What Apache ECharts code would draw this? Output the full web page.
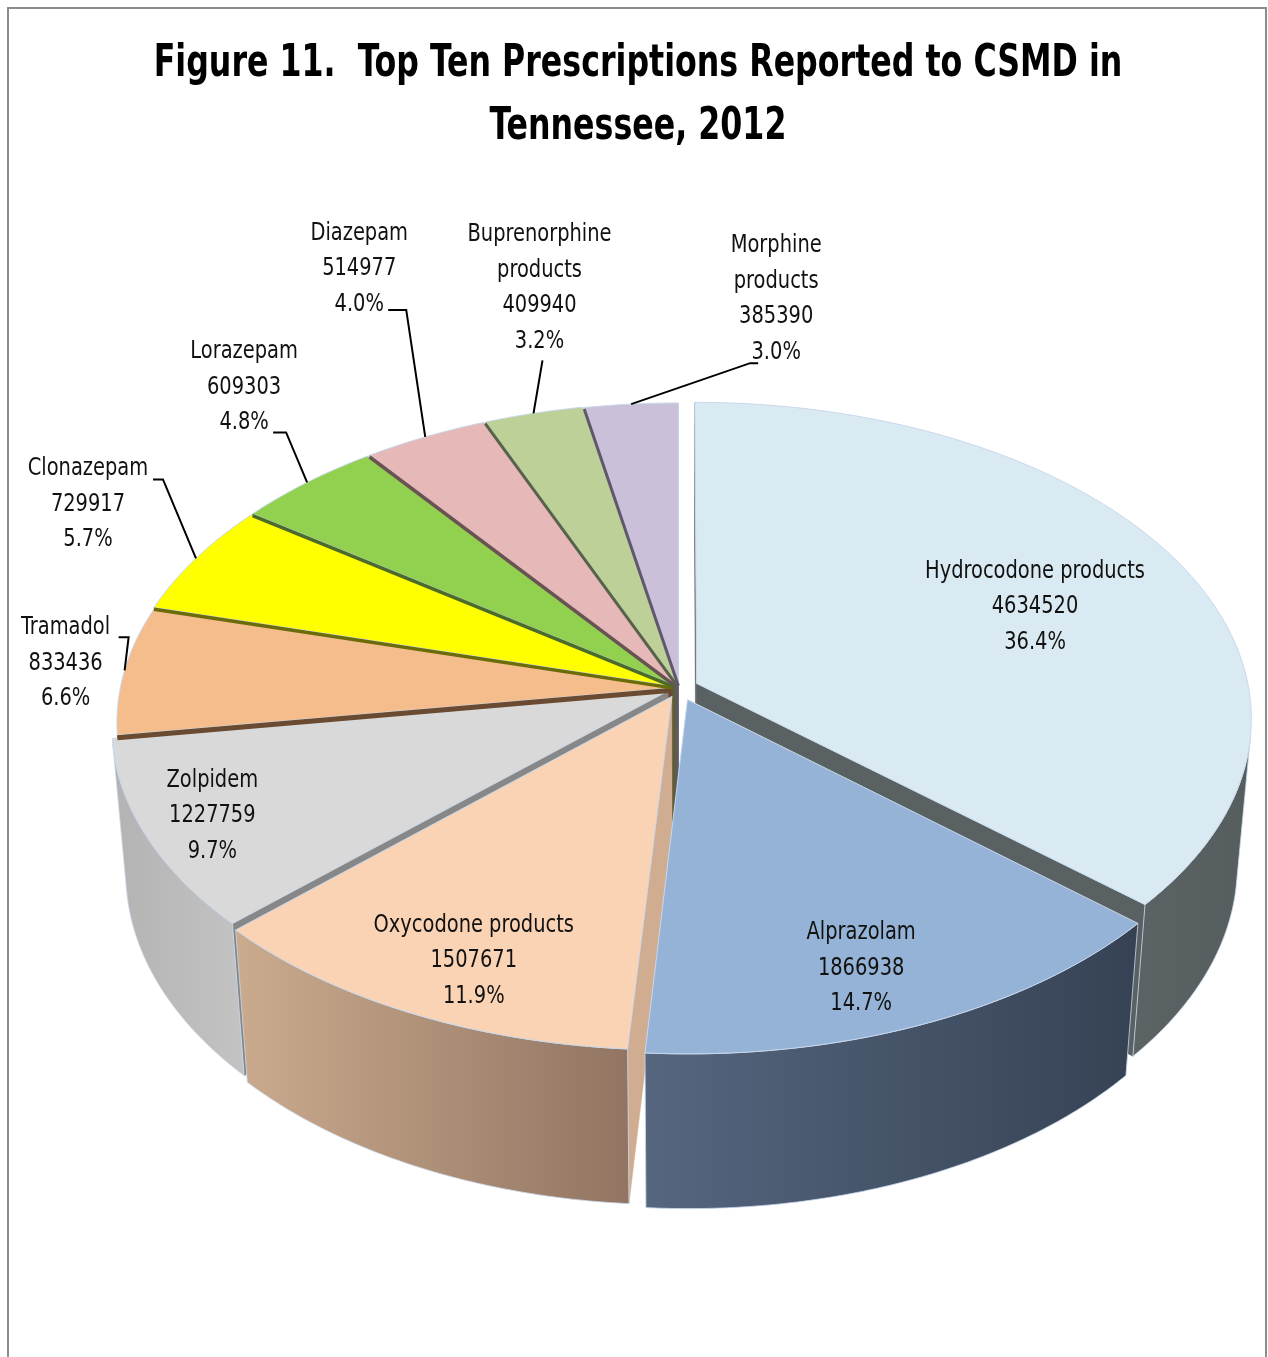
<!DOCTYPE html>
<html>
<head>
<meta charset="utf-8">
<title>Top Ten Prescriptions Reported to CSMD in Tennessee, 2012</title>
<script src="https://cdn.jsdelivr.net/npm/echarts@6/dist/echarts.min.js"></script>
<style>
  html, body { margin: 0; padding: 0; background: #ffffff; }
  #chart { width: 1268px; height: 1357px; }
</style>
</head>
<body>
<div id="chart"></div>
<script>
// ---- data ----
const drugNames = [
  'Hydrocodone products', 'Alprazolam', 'Oxycodone products', 'Zolpidem', 'Tramadol',
  'Clonazepam', 'Lorazepam', 'Diazepam', 'Buprenorphine products', 'Morphine products'
];
const prescriptionCounts = [4634520, 1866938, 1507671, 1227759, 833436, 729917, 609303, 514977, 409940, 385390];
const titleLines = ['Figure 11.  Top Ten Prescriptions Reported to CSMD in', 'Tennessee, 2012'];

// ---- styling ----
const topColors = ['#DAEAF2', '#95B3D7', '#FAD3B4', '#D9D9D9', '#F6BD8C', '#FFFF00', '#92D050', '#E6B8B7', '#BCD098', '#CBC0DA'];
const outerWallColors = [
  ['#5B6364', '#555D5E'], ['#56667F', '#364254'], ['#CBAB8E', '#917562'], ['#B3B3B3', '#C3C3C3'], ['#B9885F', '#9E7250'],
  ['#B5B500', '#9A9A00'], ['#6A9A38', '#5A8530'], ['#A88584', '#8F7170'], ['#8C9A6E', '#7A875F'], ['#958AA3', '#81778E']
];
const cutWallColors = ['#596162', '#42526B', '#D0AD91', '#878787', '#6A4A30', '#6B6B08', '#4B6B28', '#6B5252', '#58624A', '#5E586A'];
// thickness of the cut face showing along a slice's leading edge
const leadEdgeWidth = [0, 0, 0, 0, 5, 3.5, 3.5, 3.5, 3, 3];
const explodeBy = [0.035, 0.04, 0.03, 0.022, 0.012, 0.014, 0.014, 0.014, 0.014, 0.012];

// label text layout (line breaks) and placement
const labelNameLines = [
  'Hydrocodone products', 'Alprazolam', 'Oxycodone products', 'Zolpidem', 'Tramadol',
  'Clonazepam', 'Lorazepam', 'Diazepam', 'Buprenorphine\nproducts', 'Morphine\nproducts'
];
const labelInside = [true, true, true, true, false, false, false, false, false, false];
const labelShift = [[22, 5], [26, 66], [-33, 67], [-122, 33], [-59, -7], [-108, -54], [-63, -95], [-66, -168], [6, -125], [145, -105]];
const leaderBend = [null, null, null, null, [[63, -26], [53, -26]], [[75, -25], [65, -25]], [[42, 45], [29, 45]], [[47, 41], [29, 41]], [[3, 72], [3, 72]], [[-26, 64], [-18, 64]]];

// ---- 3D view of the pie ----
const view = { cx: 679, cy: 688, F: 4160, D: 7.535, tilt: Math.asin(0.5666), H: 0.33 };
const sinT = Math.sin(view.tilt), cosT = Math.cos(view.tilt);
const camera = [0, view.D * sinT, view.D * cosT];

function project(X, Y, Z) {
  const yc = Y * cosT - Z * sinT;
  const zc = view.D - (Z * cosT + Y * sinT);
  return [view.cx + view.F * X / zc, view.cy - view.F * yc / zc, zc];
}

const total = prescriptionCounts.reduce((a, b) => a + b, 0);
const slices = [];
let acc = 0;
prescriptionCounts.forEach((v, i) => {
  const a0 = acc / total * Math.PI * 2;
  acc += v;
  const a1 = acc / total * Math.PI * 2;
  const mid = (a0 + a1) / 2;
  slices.push({ a0, a1, mid, ox: explodeBy[i] * Math.sin(mid), oz: -explodeBy[i] * Math.cos(mid) });
});

function rimPoint(s, theta, Y, r) {
  return [s.ox + r * Math.sin(theta), Y, s.oz - r * Math.cos(theta)];
}
function faces(p, n) {
  // p: point on a face, n: its outward normal
  return n[0] * (camera[0] - p[0]) + n[1] * (camera[1] - p[1]) + n[2] * (camera[2] - p[2]) > 0;
}
function xy(p) { return [p[0], p[1]]; }

const textFont = "'Liberation Sans Narrow', 'DejaVu Sans Condensed', 'Roboto Condensed', sans-serif";

function renderSlice(params, api) {
  const i = params.dataIndex;
  const value = api.value(1);
  const s = slices[i];
  const H = view.H;
  const children = [];
  const step = Math.PI / 360;
  const n = Math.max(2, Math.ceil((s.a1 - s.a0) / step));

  // top face
  const top = [xy(project(s.ox, 0, s.oz))];
  for (let k = 0; k <= n; k++) {
    const t = s.a0 + (s.a1 - s.a0) * k / n;
    top.push(xy(project(...rimPoint(s, t, 0, 1))));
  }
  children.push({
    type: 'polygon', z2: 3000,
    shape: { points: top },
    style: { fill: topColors[i], stroke: '#C9D8EC', lineWidth: 1, lineJoin: 'round' }
  });

  // strip of the cut face just below the leading edge
  if (leadEdgeWidth[i] > 0) {
    const w = leadEdgeWidth[i];
    const v = project(s.ox, 0, s.oz), r = project(...rimPoint(s, s.a0, 0, 1));
    children.push({
      type: 'polyline', z2: 3001,
      shape: { points: [[v[0], v[1] + w / 2], [r[0], r[1] + w / 2]] },
      style: { stroke: cutWallColors[i], lineWidth: w, fill: null }
    });
  }

  // outer wall: only the parts turned towards the viewer
  let run = [];
  const flush = () => {
    if (run.length > 1) {
      const up = run.map(t => xy(project(...rimPoint(s, t, 0, 1))));
      const down = run.slice().reverse().map(t => xy(project(...rimPoint(s, t, -H, 1))));
      const tm = run[Math.floor(run.length / 2)];
      const depth = project(...rimPoint(s, tm, -H / 2, 1))[2];
      children.push({
        type: 'polygon', z2: Math.round(2000 - depth * 100),
        shape: { points: up.concat(down) },
        style: {
          fill: new echarts.graphic.LinearGradient(0, 0, 1, 0, [
            { offset: 0, color: outerWallColors[i][0] }, { offset: 1, color: outerWallColors[i][1] }
          ]),
          stroke: '#C9D8EC', lineWidth: 0.8
        }
      });
    }
    run = [];
  };
  for (let k = 0; k <= n; k++) {
    const t = s.a0 + (s.a1 - s.a0) * k / n;
    const p = rimPoint(s, t, -H / 2, 1);
    if (faces(p, [Math.sin(t), 0, -Math.cos(t)])) run.push(t); else flush();
  }
  flush();

  // radial cut walls
  [[s.a0, s.a0 - Math.PI / 2], [s.a1, s.a1 + Math.PI / 2]].forEach(([t, nt]) => {
    const c = [s.ox + 0.5 * Math.sin(t), -H / 2, s.oz - 0.5 * Math.cos(t)];
    if (!faces(c, [Math.sin(nt), 0, -Math.cos(nt)])) return;
    const pts = [
      project(s.ox, 0, s.oz), project(...rimPoint(s, t, 0, 1)),
      project(...rimPoint(s, t, -H, 1)), project(s.ox, -H, s.oz)
    ];
    children.push({
      type: 'polygon', z2: Math.round(2000 - project(...c)[2] * 100),
      shape: { points: pts.map(xy) },
      style: { fill: cutWallColors[i], stroke: cutWallColors[i], lineWidth: 0.5 }
    });
  });

  // data label: name, count, share
  const pct = (value / total * 100).toFixed(1) + '%';
  const text = labelNameLines[i] + '\n' + value + '\n' + pct;
  const anchor = project(...rimPoint(s, s.mid, 0, labelInside[i] ? 0.65 : 1));
  const lx = anchor[0] + labelShift[i][0];
  const ly = anchor[1] + labelShift[i][1];
  children.push({
    type: 'text', z2: 4000, x: lx, y: ly, scaleX: 0.9,
    style: {
      text: text, x: 0, y: 0, align: 'center', verticalAlign: 'middle',
      font: '24px ' + textFont, lineHeight: 35.5, fill: '#111111'
    }
  });
  if (!labelInside[i]) {
    const b = leaderBend[i];
    children.push({
      type: 'polyline', z2: 4000,
      shape: { points: [[anchor[0], anchor[1]], [lx + b[0][0], ly + b[0][1]], [lx + b[1][0], ly + b[1][1]]] },
      style: { stroke: '#000000', lineWidth: 2, fill: null }
    });
  }
  return { type: 'group', children };
}

const chart = echarts.init(document.getElementById('chart'), null, { renderer: 'canvas' });
chart.setOption({
  animation: false,
  backgroundColor: '#ffffff',
  graphic: [
    {
      type: 'rect', silent: true,
      shape: { x: 8, y: 8, width: 1258, height: 1360 },
      style: { fill: null, stroke: '#8C8C8C', lineWidth: 2 }
    },
    ...titleLines.map((line, k) => ({
      type: 'text', silent: true, x: 638, y: 65 + k * 63, scaleX: 0.8,
      style: {
        text: line, x: 0, y: 0, align: 'center', verticalAlign: 'middle',
        font: 'bold 44px ' + textFont, fill: '#000000'
      }
    }))
  ],
  series: [{
    type: 'custom',
    coordinateSystem: 'none',
    renderItem: renderSlice,
    data: prescriptionCounts.map((v, i) => [i, v, drugNames[i]])
  }]
});
</script>
</body>
</html>
